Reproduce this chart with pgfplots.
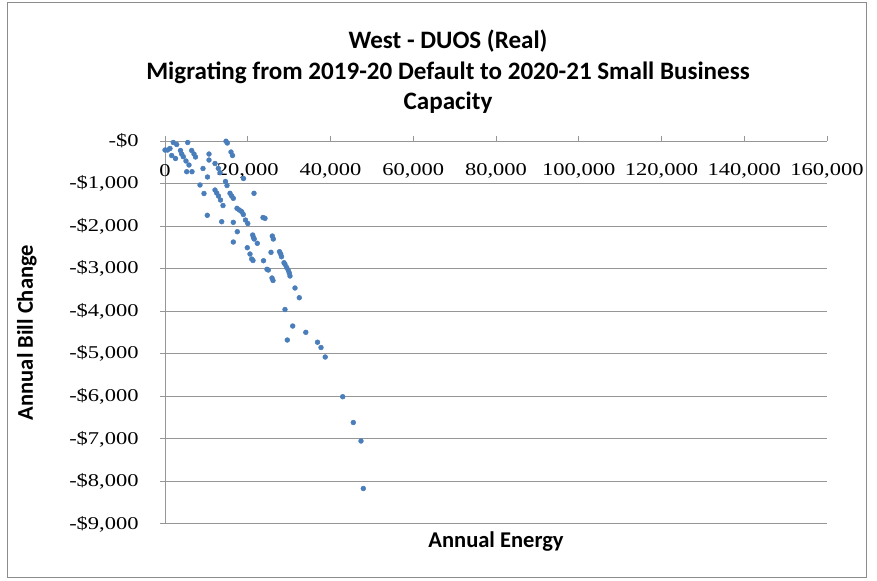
\documentclass[border=0pt]{standalone}
\usepackage{pgfplots}
\pgfplotsset{compat=1.18}
\usepackage{fontspec}
\setmainfont{Carlito}
\newfontfamily\tickfont[FakeStretch=1.25]{Liberation Serif}
\definecolor{dotblue}{RGB}{74,126,187}
\definecolor{gridgray}{RGB}{150,150,150}
\definecolor{framegray}{RGB}{140,140,140}

% Annual energy vs annual bill change
\pgfplotstableread{
x y
0 -212
604 -212
1209 -176
2006 -35
2828 -82
3746 -223
4036 -306
4423 -369
1619 -341
2538 -411
5487 -35
6453 -223
7009 -306
7372 -376
5076 -470
5801 -564
5245 -721
6526 -721
9185 -646
10635 -306
10635 -447
12085 -529
12883 -642
13294 -745
10272 -846
8460 -1034
9426 -1234
14744 -5
15058 -47
15952 -259
16315 -341
14623 -952
14985 -1046
18973 -881
12085 -1152
12496 -1222
12931 -1293
13414 -1387
14019 -1516
15711 -1229
16121 -1293
16508 -1347
17402 -1582
17958 -1622
18538 -1661
18925 -1727
21511 -1229
10224 -1746
13704 -1896
16508 -1911
19457 -1857
20013 -1939
23687 -1798
24170 -1817
17475 -2131
16508 -2374
21197 -2209
21390 -2268
21560 -2303
22309 -2404
25934 -2233
26176 -2303
19892 -2507
20545 -2656
20956 -2773
21270 -2808
23807 -2813
25620 -2616
27675 -2601
27965 -2656
28158 -2719
28762 -2860
29004 -2898
29415 -2973
29802 -3043
30044 -3102
30214 -3172
24653 -3015
24968 -3032
25862 -3220
26104 -3278
31421 -3454
32460 -3682
29004 -3960
30865 -4348
34031 -4496
29560 -4677
36859 -4728
37705 -4853
38720 -5076
42950 -6009
45512 -6615
47373 -7050
47929 -8166
}\billdata

\begin{document}
\begin{tikzpicture}
\path[use as bounding box] (0,0) rectangle (657.75pt,435.75pt);
\draw[framegray, line width=0.75pt] (5.25pt,2.25pt) rectangle (649.5pt,433.5pt);
\begin{axis}[
  at={(123.75pt,42.75pt)}, anchor=south west,
  scale only axis, width=496.5pt, height=287.25pt,
  xmin=0, xmax=160000, ymin=-9000, ymax=0,
  clip=false,
  scaled x ticks=false, scaled y ticks=false,
  axis x line*=top, axis y line*=left,
  axis line style={gridgray, line width=0.75pt},
  tick align=outside, major tick length=3.75pt,
  major tick style={gridgray, line width=0.75pt},
  ymajorgrids, grid style={gridgray, line width=0.75pt},
  xtick={0,20000,40000,60000,80000,100000,120000,140000,160000},
  xticklabels={0,{20,000},{40,000},{60,000},{80,000},{100,000},{120,000},{140,000},{160,000}},
  ytick={-9000,-8000,-7000,-6000,-5000,-4000,-3000,-2000,-1000,0},
  yticklabels={{-\$9,000},{-\$8,000},{-\$7,000},{-\$6,000},{-\$5,000},{-\$4,000},{-\$3,000},{-\$2,000},{-\$1,000},{-\$0}},
  tick label style={font=\tickfont\fontsize{13.5pt}{16pt}\selectfont},
  xticklabel style={anchor=center, yshift=-26pt},
  yticklabel style={xshift=-12.5pt},
  title={West - DUOS (Real)\\Migrating from 2019-20 Default to 2020-21 Small Business\\Capacity},
  title style={at={(axis description cs:0.4275,1.1593)}, anchor=center, align=center,
    font=\bfseries\fontsize{18.8pt}{22.9pt}\selectfont},
  xlabel={Annual Energy},
  xlabel style={at={(axis description cs:0.5,-0.0444)}, anchor=center,
    font=\bfseries\fontsize{16.9pt}{20pt}\selectfont},
  ylabel={Annual Bill Change},
  ylabel style={at={(axis description cs:-0.2085,0.5)}, anchor=center,
    font=\bfseries\fontsize{16.9pt}{20pt}\selectfont},
]
\addplot[only marks, mark=*, mark size=1.8pt,
  mark options={draw=dotblue, fill=dotblue}] table[x=x, y=y] {\billdata};
\end{axis}
\end{tikzpicture}
\end{document}
